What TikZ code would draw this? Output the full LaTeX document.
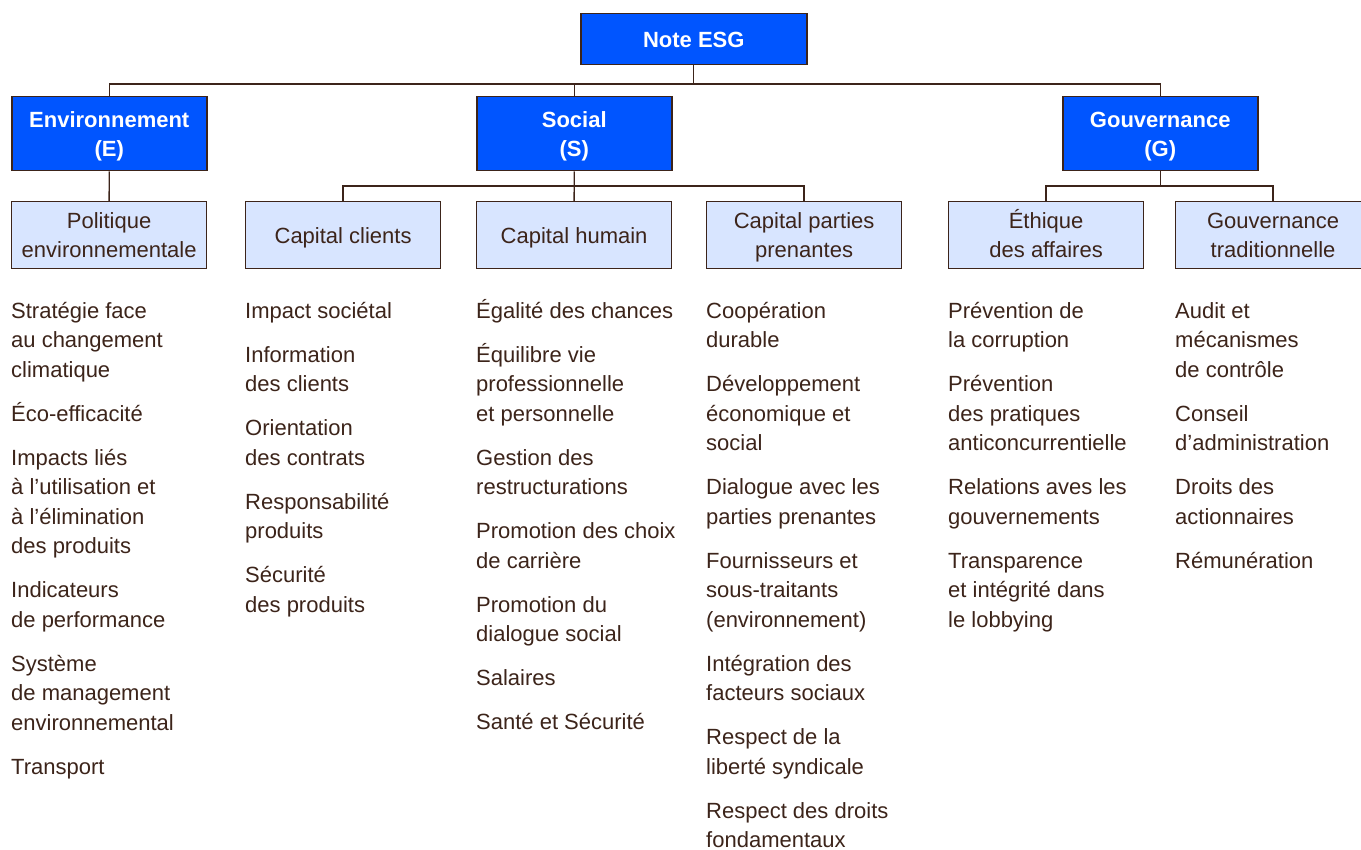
\documentclass[tikz,border=0pt]{standalone}
\usepackage{fontspec}
\setmainfont{Liberation Sans}
\definecolor{esgblue}{RGB}{0,85,255}
\definecolor{esglight}{RGB}{216,229,255}
\definecolor{esgbrown}{RGB}{60,36,26}
\newcommand{\firststrut}{\rule{0pt}{23pt}}
\begin{document}
\begin{tikzpicture}[x=1pt,y=-1pt,
  mainbox/.style={draw=esgbrown, line width=1.5pt, fill=esgblue, text=white,
    font=\fontsize{22}{29}\selectfont\bfseries, align=center, inner sep=0pt, anchor=north west},
  subbox/.style={draw=esgbrown, line width=1.2pt, fill=esglight, text=esgbrown,
    font=\fontsize{22}{29}\selectfont, align=center, inner sep=0pt, anchor=north west,
    minimum width=195pt, minimum height=67pt},
  oneline/.style={text height=22pt, text depth=5pt},
  twoline/.style={text height=51pt, text depth=6pt},
  listtext/.style={anchor=north west, inner sep=0pt, align=left, text=esgbrown,
    font=\fontsize{22}{29.5}\selectfont},
  link/.style={draw=esgbrown, line width=1.3pt}]
\useasboundingbox (0,0) rectangle (1361,850);
\clip (0,0) rectangle (1361,850);
\fill[white] (0,0) rectangle (1361,850);

% top
\node[mainbox, oneline, minimum width=226pt, minimum height=51pt] (note) at (580,13) {Note ESG};
% level 1
\node[mainbox, twoline, minimum width=195pt, minimum height=74pt] (env) at (11,96) {Environnement\\(E)};
\node[mainbox, twoline, minimum width=195pt, minimum height=74pt] (soc) at (476,96) {Social\\(S)};
\node[mainbox, twoline, minimum width=195pt, minimum height=74pt] (gov) at (1062,96) {Gouvernance\\(G)};
% level 2
\node[subbox, twoline] (pol) at (11,201) {Politique\\environnementale};
\node[subbox, oneline] (cc) at (245,201) {Capital clients};
\node[subbox, oneline] (ch) at (476,201) {Capital humain};
\node[subbox, twoline] (cpp) at (706,201) {Capital parties\\prenantes};
\node[subbox, twoline] (eth) at (948,201) {Éthique\\des affaires};
\node[subbox, twoline] (gt) at (1175,201) {Gouvernance\\traditionnelle};

% connectors
\draw[link] (note.south) -- ++(0,20);
\draw[link] (env.north) -- ++(0,-12) -| (gov.north);
\draw[link] (soc.north) -- ++(0,-12);
\draw[link] (env.south) -- (pol.north);
\draw[link] (soc.south) -- (ch.north);
\draw[link] (cc.north) -- ++(0,-15) -| (cpp.north);
\draw[link] (gov.south) -- ++(0,16);
\draw[link] (eth.north) -- ++(0,-15) -| (gt.north);

% lists
\node[listtext] (l1) at (11,295) {\firststrut Stratégie face\\au changement\\climatique\\[14.5pt]Éco-efficacité\\[14.5pt]Impacts liés\\à l’utilisation et\\à l’élimination\\des produits\\[14.5pt]Indicateurs\\de performance\\[14.5pt]Système\\de management\\environnemental\\[14.5pt]Transport};
\node[listtext] (l2) at (245,295) {\firststrut Impact sociétal\\[14.5pt]Information\\des clients\\[14.5pt]Orientation\\des contrats\\[14.5pt]Responsabilité\\produits\\[14.5pt]Sécurité\\des produits};
\node[listtext] (l3) at (476,295) {\firststrut Égalité des chances\\[14.5pt]Équilibre vie\\professionnelle\\et personnelle\\[14.5pt]Gestion des\\restructurations\\[14.5pt]Promotion des choix\\de carrière\\[14.5pt]Promotion du\\dialogue social\\[14.5pt]Salaires\\[14.5pt]Santé et Sécurité};
\node[listtext] (l4) at (706,295) {\firststrut Coopération\\durable\\[14.5pt]Développement\\économique et\\social\\[14.5pt]Dialogue avec les\\parties prenantes\\[14.5pt]Fournisseurs et\\sous-traitants\\(environnement)\\[14.5pt]Intégration des\\facteurs sociaux\\[14.5pt]Respect de la\\liberté syndicale\\[14.5pt]Respect des droits\\fondamentaux};
\node[listtext] (l5) at (948,295) {\firststrut Prévention de\\la corruption\\[14.5pt]Prévention\\des pratiques\\anticoncurrentielle\\[14.5pt]Relations aves les\\gouvernements\\[14.5pt]Transparence\\et intégrité dans\\le lobbying};
\node[listtext] (l6) at (1175,295) {\firststrut Audit et\\mécanismes\\de contrôle\\[14.5pt]Conseil\\d’administration\\[14.5pt]Droits des\\actionnaires\\[14.5pt]Rémunération};
\end{tikzpicture}
\end{document}
